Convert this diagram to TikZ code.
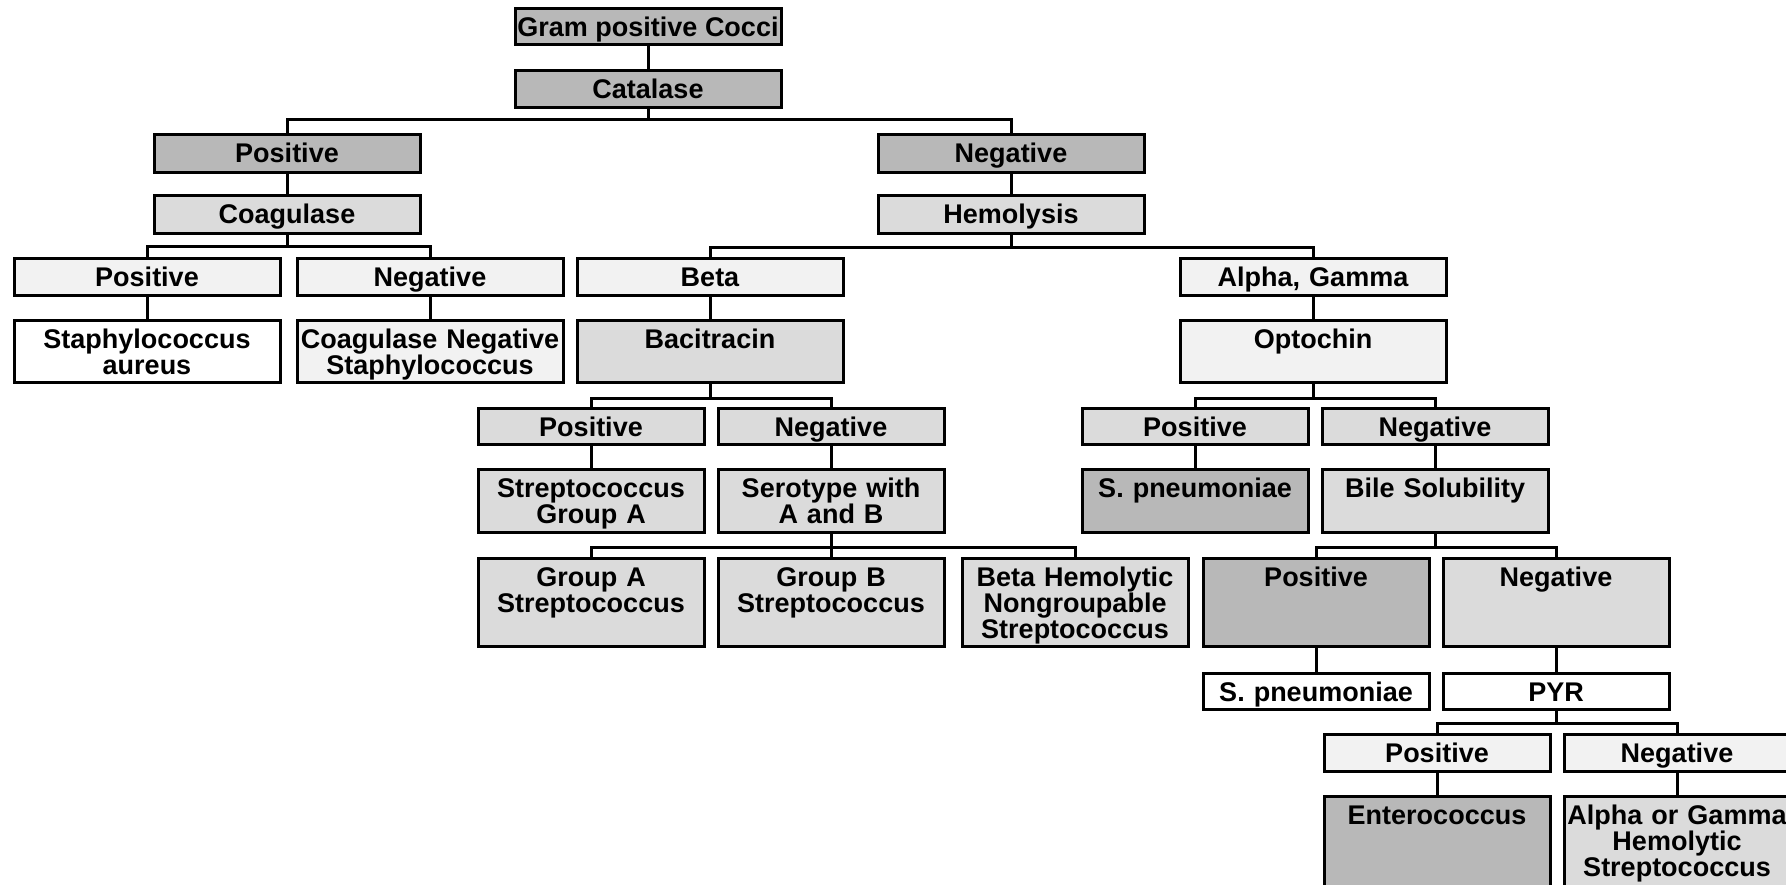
\documentclass[tikz,border=0pt]{standalone}
\usepackage{fontspec}
\setmainfont{Liberation Sans}
\usepackage{tikz}

\begin{document}
\begin{tikzpicture}[x=1pt,y=-1pt,
    box/.style={draw,line width=3pt,fill=white,font=\bfseries\fontsize{27}{26}\selectfont,
      align=center,inner xsep=2pt,inner ysep=0pt,text height=28pt,anchor=north},
    wide/.style={text width=262pt},
    narrow/.style={text width=222pt},
    deep/.style={text depth=#1},
    dense/.style={fill=black!28},
    grainy/.style={fill=black!14},
    faint/.style={fill=black!5},
    link/.style={line width=3pt}]
  \useasboundingbox (0,0) rectangle (1786,884);
  % catalase branch
  \node[box,minimum width=266pt,deep=8pt,dense] (gram) at (648,7) {Gram positive Cocci};
  \node[box,wide,deep=9pt,dense] (cata) at (648,69) {Catalase};
  \node[box,wide,deep=10pt,dense] (pos1) at (287,133) {Positive};
  \node[box,wide,deep=10pt,dense] (neg1) at (1011,133) {Negative};
  \node[box,wide,deep=10pt,grainy] (coag) at (287,194) {Coagulase};
  \node[box,wide,deep=10pt,grainy] (hemo) at (1011,194) {Hemolysis};
  \node[box,wide,deep=9pt,faint] (pos2) at (147,257) {Positive};
  \node[box,wide,deep=9pt,faint] (neg2) at (430,257) {Negative};
  \node[box,wide,deep=9pt,faint] (beta) at (710,257) {Beta};
  \node[box,wide,deep=9pt,faint] (alga) at (1313,257) {Alpha, Gamma};
  \node[box,wide,deep=34pt] (staph) at (147,319) {Staphylococcus\\aureus};
  \node[box,wide,deep=34pt,faint] (cns) at (430,319) {Coagulase Negative\\Staphylococcus};
  \node[box,wide,deep=34pt,grainy] (baci) at (710,319) {Bacitracin};
  \node[box,wide,deep=34pt,faint] (opto) at (1313,319) {Optochin};
  % bacitracin and optochin
  \node[box,narrow,deep=8pt,grainy] (bpos) at (591,407) {Positive};
  \node[box,narrow,deep=8pt,grainy] (bneg) at (831,407) {Negative};
  \node[box,narrow,deep=8pt,grainy] (opos) at (1195,407) {Positive};
  \node[box,narrow,deep=8pt,grainy] (oneg) at (1435,407) {Negative};
  \node[box,narrow,deep=35pt,grainy] (sgA) at (591,468) {Streptococcus\\Group A};
  \node[box,narrow,deep=35pt,grainy] (sero) at (831,468) {Serotype with\\A and B};
  \node[box,narrow,deep=35pt,dense] (spn) at (1195,468) {S. pneumoniae};
  \node[box,narrow,deep=35pt,grainy] (bile) at (1435,468) {Bile Solubility};
  \node[box,narrow,deep=60pt,grainy] (grA) at (591,557) {Group A\\Streptococcus};
  \node[box,narrow,deep=60pt,grainy] (grB) at (831,557) {Group B\\Streptococcus};
  \node[box,narrow,deep=60pt,grainy] (bhn) at (1075,557) {Beta Hemolytic\\Nongroupable\\Streptococcus};
  \node[box,narrow,deep=60pt,dense] (bpos2) at (1316,557) {Positive};
  \node[box,narrow,deep=60pt,grainy] (bneg2) at (1556,557) {Negative};
  % PYR
  \node[box,narrow,deep=8pt] (spn2) at (1316,672) {S. pneumoniae};
  \node[box,narrow,deep=8pt] (pyr) at (1556,672) {PYR};
  \node[box,narrow,deep=9pt,faint] (ppos) at (1437,733) {Positive};
  \node[box,narrow,deep=9pt,faint] (pneg) at (1677,733) {Negative};
  \node[box,narrow,deep=72pt,dense] (ent) at (1437,795) {Enterococcus};
  \node[box,narrow,deep=72pt,grainy] (agh) at (1677,795) {Alpha or Gamma\\Hemolytic\\Streptococcus};
  % connectors
  \draw[link] (gram) -- (cata);
  \draw[link] (cata.south) -- ++(0,10) coordinate (b1) foreach \c in {pos1,neg1} {(b1) -| (\c.north)};
  \draw[link] (pos1) -- (coag) (neg1) -- (hemo);
  \draw[link] (coag.south) -- ++(0,11) coordinate (b2) foreach \c in {pos2,neg2} {(b2) -| (\c.north)};
  \draw[link] (hemo.south) -- ++(0,12) coordinate (b3) foreach \c in {beta,alga} {(b3) -| (\c.north)};
  \draw[link] (pos2) -- (staph) (neg2) -- (cns) (beta) -- (baci) (alga) -- (opto);
  \draw[link] (baci.south) -- ++(0,14) coordinate (b4) foreach \c in {bpos,bneg} {(b4) -| (\c.north)};
  \draw[link] (opto.south) -- ++(0,14) coordinate (b5) foreach \c in {opos,oneg} {(b5) -| (\c.north)};
  \draw[link] (bpos) -- (sgA) (bneg) -- (sero) (opos) -- (spn) (oneg) -- (bile);
  \draw[link] (sero.south) -- ++(0,13) coordinate (b6) foreach \c in {grA,grB,bhn} {(b6) -| (\c.north)};
  \draw[link] (bile.south) -- ++(0,13) coordinate (b7) foreach \c in {bpos2,bneg2} {(b7) -| (\c.north)};
  \draw[link] (bpos2) -- (spn2) (bneg2) -- (pyr);
  \draw[link] (pyr.south) -- ++(0,12) coordinate (b8) foreach \c in {ppos,pneg} {(b8) -| (\c.north)};
  \draw[link] (ppos) -- (ent) (pneg) -- (agh);
\end{tikzpicture}
\end{document}
